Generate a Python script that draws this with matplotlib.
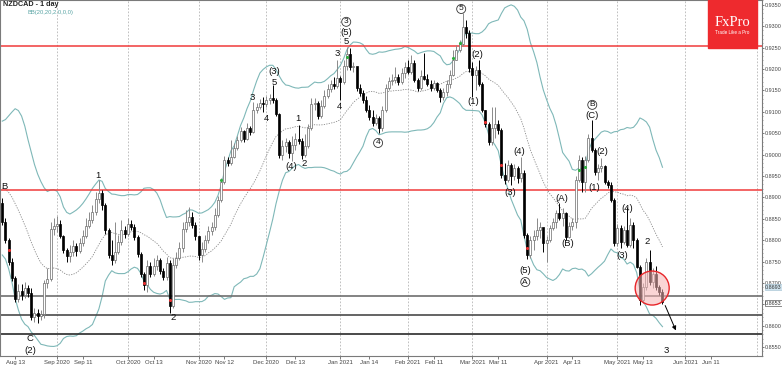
import matplotlib
matplotlib.use('Agg')
import matplotlib.pyplot as plt
from matplotlib.patches import Rectangle, Ellipse
import matplotlib.transforms as mtransforms
import numpy as np
import pandas as pd

plt.rcParams['font.family'] = ['Liberation Sans', 'DejaVu Sans']

# --- NZDCAD daily bars, 2020-08-07 .. 2021-05-21
first_date = '2020-08-07'
first_open = 0.8887
closes = [
    0.8842, 0.8800, 0.8749, 0.8712, 0.8662, 0.8681, 0.8672, 0.8688, 0.8676, 0.8620,
    0.8630, 0.8623, 0.8627, 0.8700, 0.8709, 0.8826, 0.8833, 0.8838, 0.8810, 0.8777,
    0.8763, 0.8772, 0.8786, 0.8775, 0.8793, 0.8810, 0.8833, 0.8847, 0.8866, 0.8896,
    0.8910, 0.8882, 0.8824, 0.8765, 0.8754, 0.8772, 0.8796, 0.8824, 0.8814, 0.8838,
    0.8831, 0.8807, 0.8768, 0.8721, 0.8695, 0.8740, 0.8721, 0.8740, 0.8754, 0.8728,
    0.8714, 0.8747, 0.8646, 0.8742, 0.8758, 0.8782, 0.8826, 0.8842, 0.8854, 0.8835,
    0.8810, 0.8765, 0.8779, 0.8800, 0.8821, 0.8831, 0.8859, 0.8894, 0.8936, 0.8987,
    0.8980, 0.8994, 0.9015, 0.9034, 0.9055, 0.9036, 0.9062, 0.9053, 0.9104, 0.9111,
    0.9120, 0.9118, 0.9127, 0.9132, 0.9127, 0.9095, 0.8999, 0.9020, 0.9029, 0.9004,
    0.9022, 0.9036, 0.9032, 0.8999, 0.9020, 0.9062, 0.9118, 0.9120, 0.9090, 0.9113,
    0.9137, 0.9153, 0.9165, 0.9160, 0.9179, 0.9169, 0.9207, 0.9235, 0.9205, 0.9207,
    0.9155, 0.9144, 0.9127, 0.9104, 0.9088, 0.9074, 0.9085, 0.9062, 0.9104, 0.9155,
    0.9172, 0.9174, 0.9181, 0.9169, 0.9190, 0.9205, 0.9193, 0.9214, 0.9174, 0.9155,
    0.9183, 0.9176, 0.9165, 0.9155, 0.9167, 0.9151, 0.9134, 0.9146, 0.9165, 0.9186,
    0.9221, 0.9244, 0.9258, 0.9298, 0.9284, 0.9202, 0.9186, 0.9198, 0.9165, 0.9104,
    0.9071, 0.9029, 0.9062, 0.9071, 0.9057, 0.8952, 0.8940, 0.8976, 0.8950, 0.8969,
    0.8945, 0.8957, 0.8812, 0.8765, 0.8800, 0.8810, 0.8824, 0.8831, 0.8793, 0.8800,
    0.8828, 0.8842, 0.8863, 0.8852, 0.8863, 0.8807, 0.8833, 0.8842, 0.8940, 0.8987,
    0.8936, 0.8987, 0.9039, 0.9011, 0.8959, 0.8969, 0.8973, 0.8936, 0.8929, 0.8894,
    0.8793, 0.8828, 0.8796, 0.8824, 0.8789, 0.8835, 0.8800, 0.8737, 0.8660, 0.8690,
    0.8749, 0.8702, 0.8721, 0.8690, 0.8679, 0.8655,
]
highs = [
    0.8898, 0.8852, 0.8805, 0.8758, 0.8716, 0.8697, 0.8697, 0.8702, 0.8695, 0.8688,
    0.8641, 0.8639, 0.8637, 0.8707, 0.8735, 0.8842, 0.8852, 0.8856, 0.8847, 0.8812,
    0.8782, 0.8789, 0.8800, 0.8793, 0.8805, 0.8824, 0.8852, 0.8866, 0.8882, 0.8912,
    0.8940, 0.8917, 0.8887, 0.8828, 0.8800, 0.8842, 0.8812, 0.8847, 0.8833, 0.8852,
    0.8847, 0.8838, 0.8812, 0.8772, 0.8726, 0.8754, 0.8749, 0.8758, 0.8765, 0.8758,
    0.8735, 0.8761, 0.8754, 0.8758, 0.8772, 0.8796, 0.8842, 0.8870, 0.8877, 0.8866,
    0.8842, 0.8810, 0.8796, 0.8812, 0.8833, 0.8842, 0.8875, 0.8903, 0.8945, 0.8997,
    0.8994, 0.9034, 0.9027, 0.9043, 0.9064, 0.9057, 0.9074, 0.9067, 0.9123, 0.9120,
    0.9130, 0.9134, 0.9137, 0.9141, 0.9162, 0.9132, 0.9097, 0.9034, 0.9039, 0.9034,
    0.9043, 0.9050, 0.9069, 0.9039, 0.9048, 0.9071, 0.9132, 0.9132, 0.9125, 0.9127,
    0.9151, 0.9165, 0.9174, 0.9181, 0.9221, 0.9183, 0.9221, 0.9251, 0.9249, 0.9216,
    0.9202, 0.9165, 0.9151, 0.9137, 0.9116, 0.9104, 0.9095, 0.9090, 0.9113, 0.9165,
    0.9181, 0.9188, 0.9205, 0.9188, 0.9202, 0.9216, 0.9221, 0.9233, 0.9221, 0.9179,
    0.9198, 0.9237, 0.9188, 0.9174, 0.9174, 0.9169, 0.9155, 0.9155, 0.9174, 0.9198,
    0.9244, 0.9256, 0.9268, 0.9331, 0.9314, 0.9291, 0.9216, 0.9207, 0.9221, 0.9169,
    0.9104, 0.9076, 0.9111, 0.9111, 0.9081, 0.9062, 0.8980, 0.8987, 0.8980, 0.8978,
    0.8973, 0.8994, 0.8964, 0.8817, 0.8810, 0.8824, 0.8852, 0.8842, 0.8814, 0.8810,
    0.8835, 0.8852, 0.8870, 0.8887, 0.8875, 0.8866, 0.8842, 0.8852, 0.8950, 0.8999,
    0.8994, 0.8997, 0.9048, 0.9081, 0.9015, 0.8978, 0.8992, 0.8976, 0.8940, 0.8936,
    0.8898, 0.8838, 0.8835, 0.8833, 0.8877, 0.8852, 0.8842, 0.8805, 0.8742, 0.8700,
    0.8758, 0.8777, 0.8735, 0.8740, 0.8695, 0.8686,
]
lows = [
    0.8835, 0.8793, 0.8742, 0.8704, 0.8655, 0.8655, 0.8660, 0.8665, 0.8667, 0.8613,
    0.8609, 0.8606, 0.8613, 0.8618, 0.8688, 0.8704, 0.8812, 0.8819, 0.8805, 0.8770,
    0.8749, 0.8749, 0.8763, 0.8763, 0.8770, 0.8786, 0.8805, 0.8828, 0.8840, 0.8859,
    0.8887, 0.8870, 0.8814, 0.8758, 0.8742, 0.8747, 0.8768, 0.8789, 0.8805, 0.8810,
    0.8824, 0.8800, 0.8761, 0.8714, 0.8683, 0.8679, 0.8714, 0.8716, 0.8730, 0.8721,
    0.8707, 0.8707, 0.8630, 0.8641, 0.8735, 0.8754, 0.8772, 0.8819, 0.8833, 0.8828,
    0.8800, 0.8754, 0.8749, 0.8772, 0.8793, 0.8812, 0.8824, 0.8854, 0.8889, 0.8931,
    0.8973, 0.8976, 0.8992, 0.9011, 0.9029, 0.9029, 0.9034, 0.9046, 0.9050, 0.9097,
    0.9106, 0.9099, 0.9111, 0.9118, 0.9120, 0.9090, 0.8992, 0.8987, 0.9006, 0.8992,
    0.8985, 0.9011, 0.9025, 0.8990, 0.8994, 0.9015, 0.9057, 0.9104, 0.9083, 0.9085,
    0.9109, 0.9132, 0.9146, 0.9153, 0.9155, 0.9127, 0.9165, 0.9198, 0.9198, 0.9193,
    0.9148, 0.9137, 0.9120, 0.9099, 0.9081, 0.9067, 0.9069, 0.9050, 0.9055, 0.9099,
    0.9151, 0.9162, 0.9167, 0.9162, 0.9165, 0.9179, 0.9188, 0.9188, 0.9169, 0.9148,
    0.9151, 0.9174, 0.9160, 0.9148, 0.9151, 0.9146, 0.9123, 0.9127, 0.9137, 0.9155,
    0.9183, 0.9221, 0.9240, 0.9254, 0.9272, 0.9193, 0.9134, 0.9151, 0.9160, 0.9099,
    0.9064, 0.9022, 0.9022, 0.9039, 0.9048, 0.8945, 0.8931, 0.8936, 0.8929, 0.8940,
    0.8933, 0.8936, 0.8805, 0.8756, 0.8758, 0.8777, 0.8800, 0.8805, 0.8772, 0.8749,
    0.8796, 0.8824, 0.8828, 0.8847, 0.8833, 0.8800, 0.8805, 0.8824, 0.8828, 0.8936,
    0.8912, 0.8912, 0.8983, 0.9006, 0.8952, 0.8940, 0.8959, 0.8931, 0.8922, 0.8889,
    0.8786, 0.8786, 0.8782, 0.8791, 0.8784, 0.8784, 0.8782, 0.8735, 0.8648, 0.8653,
    0.8683, 0.8695, 0.8688, 0.8683, 0.8672, 0.8651,
]
# closes of the 20 bars before the first visible one (estimated from the band position)
warmup_closes = [
    0.8824, 0.8859, 0.8894, 0.8929, 0.8964, 0.8992, 0.9020, 0.9039, 0.9053, 0.9034,
    0.8999, 0.8952, 0.8905, 0.8859, 0.8819, 0.8800, 0.8828, 0.8859, 0.8882, 0.8903,
]

# signal dots
red_dot_bars = [2, 44, 52, 150, 155, 163]
red_dot_prices = [0.8777, 0.8700, 0.8660, 0.9076, 0.8976, 0.8782]
green_dot_bars = [68, 107, 140, 142, 179, 181]
green_dot_prices = [0.8940, 0.9228, 0.9226, 0.9261, 0.8964, 0.8971]

# horizontal levels
red_levels = [0.9253, 0.8916]
grey_levels = [0.8670, 0.8626, 0.8581]

# elliott wave labels: text, bar position, price, circled
wave_text = ['B', '1', 'C', '(2)', '2', '3', '(3)', '5', '4', '(4)', '1', '2',
             '3', '(5)', '5', '3', '4', '4', '5', '(2)', '(1)', '(4)', '(3)',
             '(5)', 'A', '(A)', '(B)', 'B', '(C)', '(2)', '(1)', '(4)', '(3)', '2', '3']
wave_x = [0.6, 29.7, 8.6, 8.6, 53, 77.6, 84.4, 84.4, 81.9, 89.7, 91.8, 93.7,
          106.8, 106.8, 106.8, 104, 104.6, 116.7, 142.5, 147.4, 146.2, 160.5, 157.7,
          162.4, 162.4, 173.8, 175.7, 183.2, 183.2, 186.3, 183.8, 194, 192.5, 200.2, 206.1]
wave_y = [0.8926, 0.8952, 0.8569, 0.8543, 0.8618, 0.9134, 0.9193, 0.9169, 0.9083, 0.8971,
          0.9085, 0.8978, 0.9310, 0.9286, 0.9265, 0.9237, 0.9113, 0.9027, 0.9340, 0.9233,
          0.9123, 0.9006, 0.8912, 0.8730, 0.8702, 0.8898, 0.8791, 0.9116, 0.9092, 0.9008,
          0.8924, 0.8875, 0.8763, 0.8796, 0.8543]
wave_circled = [False, False, False, False, False, False, False, False, False, False,
                False, False, True, False, False, False, False, True, True, False,
                False, False, False, False, True, False, False, True, False, False,
                False, False, False, False, False]

# x axis labels
tick_dates = ['2020-08-13', '2020-09-01', '2020-09-11', '2020-10-01', '2020-10-13',
              '2020-11-02', '2020-11-12', '2020-12-01', '2020-12-14', '2021-01-01',
              '2021-01-14', '2021-02-01', '2021-02-11', '2021-03-01', '2021-03-11',
              '2021-04-01', '2021-04-13', '2021-05-03', '2021-05-13', '2021-06-01',
              '2021-06-11']
tick_labels = ['Aug 13', 'Sep 2020', 'Sep 11', 'Oct 2020', 'Oct 13', 'Nov 2020', 'Nov 12',
               'Dec 2020', 'Dec 13', 'Jan 2021', 'Jan 14', 'Feb 2021', 'Feb 11', 'Mar 2021',
               'Mar 11', 'Apr 2021', 'Apr 13', 'May 2021', 'May 13', 'Jun 2021', 'Jun 11']

# price tags on the right scale
bid_tag, last_tag = 0.8693, 0.8653

# --- figure
W, H = 782, 366
fig = plt.figure(figsize=(W / 100, H / 100), dpi=100)
ax = fig.add_axes([0, 10 / H, 762 / W, 356 / H])

n = len(closes)
x = np.arange(n)
c = np.array(closes)
o = np.array([first_open] + closes[:-1])
hi = np.array(highs)
lo = np.array(lows)
up = c >= o

# bollinger bands (20, 2.0)
s = pd.Series(warmup_closes + closes)
mid = s.rolling(20).mean().values[-n:]
sd = s.rolling(20).std(ddof=0).values[-n:]
teal = '#7fb8b8'
ax.plot(x, mid + 2 * sd, color=teal, lw=0.8, zorder=2)
ax.plot(x, mid - 2 * sd, color=teal, lw=0.8, zorder=2)
ax.plot(x, mid, color='#8a8a8a', lw=0.6, ls=(0, (1.5, 1.5)), zorder=2)

# month grid
dates = pd.bdate_range(first_date, periods=260)
tick_pos = [dates.searchsorted(pd.Timestamp(d)) for d in tick_dates]
for p, lab in zip(tick_pos, tick_labels):
    if lab[-4:].isdigit():
        ax.axvline(p, color='#b5b5b5', lw=0.6, ls=(0, (2, 2)), zorder=1)
ax.axvline(234.4, color='#b5b5b5', lw=0.6, ls=(0, (2, 2)), zorder=1)

# levels
for lv in red_levels:
    ax.axhline(lv, color='#f03a3a', lw=1.1, zorder=2)
for lv, col in zip(grey_levels, ['#6e6e6e', '#4a4a4a', '#2a2a2a']):
    ax.axhline(lv, color=col, lw=1.2, zorder=2)

# candles
ax.vlines(x[up], lo[up], hi[up], color='#8a8a8a', lw=0.7, zorder=3)
ax.vlines(x[~up], lo[~up], hi[~up], color='black', lw=0.7, zorder=3)
ax.bar(x[up], (c - o)[up], bottom=o[up], width=0.62, color='white',
       edgecolor='#6a6a6a', lw=0.5, zorder=4)
ax.bar(x[~up], (o - c)[~up], bottom=c[~up], width=0.62, color='black',
       edgecolor='black', lw=0.5, zorder=4)

ax.scatter(red_dot_bars, red_dot_prices, s=5, color='#e83030', zorder=5, lw=0)
ax.scatter(green_dot_bars, green_dot_prices, s=5, color='#2fae3f', zorder=5, lw=0)

# wave labels
for t, wx, wy, circ in zip(wave_text, wave_x, wave_y, wave_circled):
    kw = dict(ha='center', va='center', fontsize=6.8, color='#111111', zorder=6)
    if circ:
        kw['bbox'] = dict(boxstyle='circle,pad=0.12', fc='white', ec='#333333', lw=0.6)
        kw['fontsize'] = 6.0
    ax.text(wx, wy, t, **kw)

# target circle and arrow
ax.add_patch(Ellipse((201.8, 0.8688), width=34 / 3.22, height=34 / 4280,
                     facecolor='#f6b4b4', alpha=0.55, edgecolor='none', zorder=5))
ax.add_patch(Ellipse((201.8, 0.8688), width=34 / 3.22, height=34 / 4280,
                     facecolor='none', edgecolor='#e8262a', lw=1.0, zorder=6))
ax.annotate('', xy=(209.5, 0.8583), xytext=(205.5, 0.8653),
            arrowprops=dict(arrowstyle='-|>', color='black', lw=0.7, mutation_scale=6),
            zorder=6)

# axes
ax.set_xlim(-0.7, 235.9)
ax.set_ylim(0.85292, 0.93610)
ax.yaxis.tick_right()
yt = np.round(np.arange(0.855, 0.9351, 0.005), 4)
ax.set_yticks(yt)
# the 0.8650 label sits under the last-price tag
ax.set_yticklabels(['' if abs(v - 0.865) < 1e-6 else '%.4f' % v for v in yt])
ax.set_yticks(np.arange(0.853, 0.936, 0.001), minor=True)
ax.tick_params(axis='y', which='major', length=1.6, width=0.5, pad=0.6,
               labelsize=3.9, colors='#444444')
ax.tick_params(axis='y', which='minor', length=0.9, width=0.4, colors='#666666')
ax.set_xticks(tick_pos)
ax.set_xticklabels(tick_labels)
ax.tick_params(axis='x', length=2, width=0.5, pad=1, labelsize=4.3, colors='#444444')
for sp in ax.spines.values():
    sp.set_color('#7a7a7a')
    sp.set_linewidth(0.8)

# price tags on the right axis
trans = mtransforms.blended_transform_factory(ax.transAxes, ax.transData)
ax.text(1.004, bid_tag - 0.0003, '%.4f' % bid_tag, transform=trans, fontsize=3.9,
        va='center', ha='left', color='#333333', clip_on=False, zorder=8,
        bbox=dict(boxstyle='square,pad=0.08', fc='#cfe3ee', ec='#9fbfd0', lw=0.4))
ax.text(1.004, last_tag, '%.4f' % last_tag, transform=trans, fontsize=3.9,
        va='center', ha='left', color='#333333', clip_on=False, zorder=8,
        bbox=dict(boxstyle='square,pad=0.08', fc='white', ec='#333333', lw=0.4))

# header
fig.text(3 / W, 1 - 5 / H, 'NZDCAD - 1 day', fontsize=5.2, weight='bold', va='center',
         color='#222222')
fig.text(28 / W, 1 - 12.5 / H, 'BB(20,20,2.0,0,0)', fontsize=4.2, va='center', color='#5aa5a5')

# logo
fig.patches.append(Rectangle((708 / W, 1 - 48 / H), 49 / W, 48 / H,
                             transform=fig.transFigure, color='#ee2a2e', zorder=10))
fig.text(732.5 / W, 1 - 22 / H, 'FxPro', fontsize=10.5, color='white', family='Liberation Serif',
         ha='center', va='center', zorder=11)
fig.text(732.5 / W, 1 - 32 / H, 'Trade Like a Pro', fontsize=3.3, color='white',
         ha='center', va='center', zorder=11)

fig.savefig('out.png', dpi=100)
